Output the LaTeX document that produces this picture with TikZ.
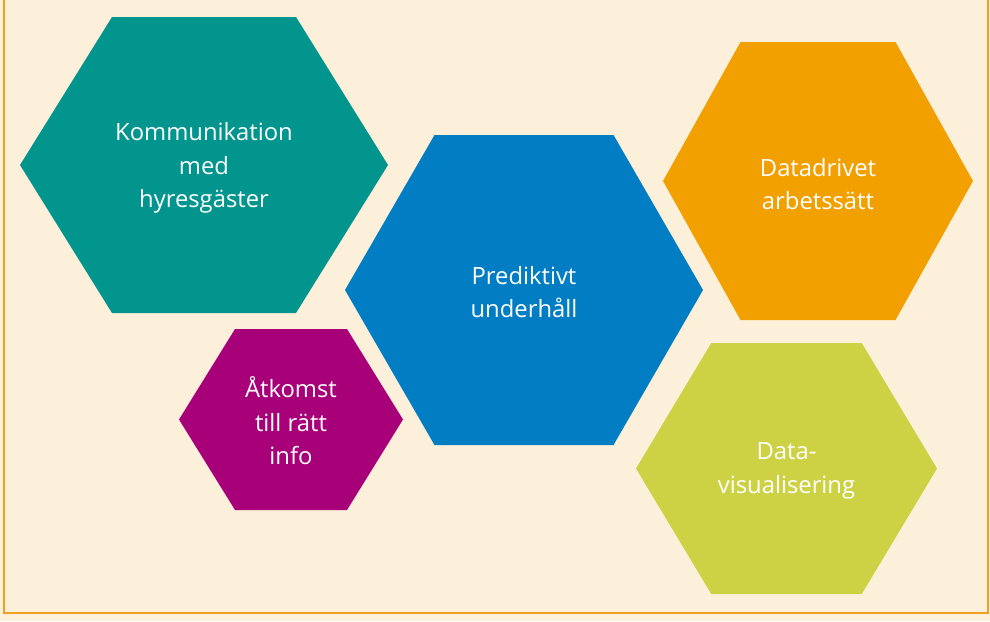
\documentclass[tikz,border=0pt]{standalone}
\usepackage{fontspec}
\setmainfont{Open Sans}
\usepackage{tikz}
\usetikzlibrary{positioning}

\definecolor{bgcream}{HTML}{FDF0DB}
\definecolor{frameorange}{HTML}{F0A020}
\definecolor{hexteal}{HTML}{01958E}
\definecolor{hexblue}{HTML}{017DC3}
\definecolor{hexorange}{HTML}{F1A000}
\definecolor{hexmagenta}{HTML}{A70079}
\definecolor{hexlime}{HTML}{CDD244}

% hexagon: centre x, centre y, half width, half height, colour
\newcommand{\hexa}[5]{%
  \fill[#5] ({#1-#3},#2) -- ({#1-#3/2},{#2-#4}) -- ({#1+#3/2},{#2-#4})
    -- ({#1+#3},#2) -- ({#1+#3/2},{#2+#4}) -- ({#1-#3/2},{#2+#4}) -- cycle;}

\begin{document}
\begin{tikzpicture}[x=1pt,y=-1pt,
    hexlabel/.style={text=white,align=center,inner sep=0pt,
      font=\fontsize{23.8}{33.5}\selectfont}]
  \fill[bgcream] (0,0) rectangle (990,621);
  \useasboundingbox (0,0) rectangle (990,621);
  \draw[frameorange,line width=2.4pt] (4,-2) -- (4,613) -- (988,613) -- (988,-2);

  \hexa{204}{165}{184}{148}{hexteal}
  \hexa{524}{290}{179}{155}{hexblue}
  \hexa{818}{181}{155}{139}{hexorange}
  \hexa{786.5}{468.5}{150.5}{125.5}{hexlime}
  \hexa{291}{419.5}{112}{90.5}{hexmagenta}

  \node[hexlabel] (komm) at (204,168) {Kommunikation\\med\\hyresgäster};
  \node[hexlabel] (pred) at (524,292) {Prediktivt\\underhåll};
  \node[hexlabel] (data) at (818,184) {Datadrivet\\arbetssätt};
  \node[hexlabel] (vis) at (786.5,471) {Data-\\visualisering};
  \node[hexlabel] (atk) at (291,421) {Åtkomst\\till rätt\\info};
\end{tikzpicture}
\end{document}
